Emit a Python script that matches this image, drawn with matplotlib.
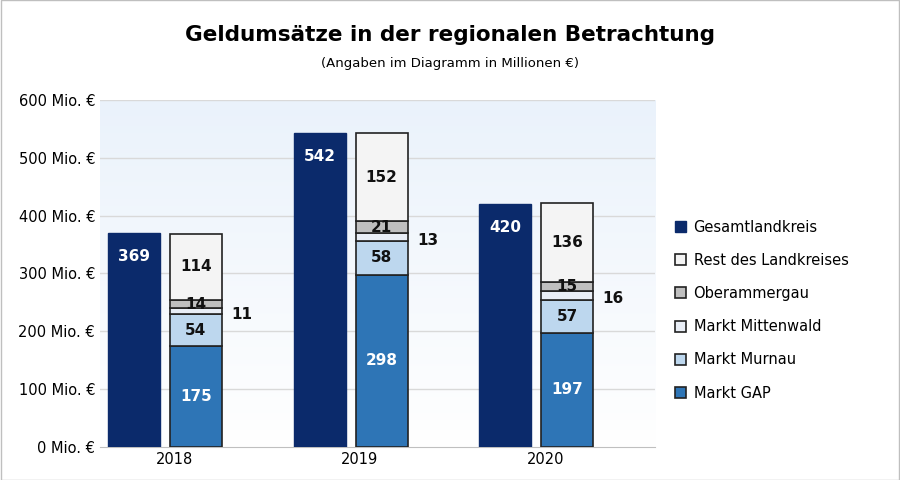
import matplotlib.pyplot as plt
import numpy as np
from matplotlib.colors import LinearSegmentedColormap

years = ["2018", "2019", "2020"]
gesamt = [369, 542, 420]
gap = [175, 298, 197]
murnau = [54, 58, 57]
mittenwald = [11, 13, 16]
oberammergau = [14, 21, 15]
rest = [114, 152, 136]
yticks = [0, 100, 200, 300, 400, 500, 600]

fig = plt.figure(figsize=(9, 4.8), dpi=100)
ax = fig.add_axes([0.111, 0.069, 0.617, 0.723])
x = np.arange(3)
w = 0.28
off = 0.167

grad = np.linspace(0, 1, 256).reshape(-1, 1)
cm = LinearSegmentedColormap.from_list("bg", ["#ffffff", "#eaf2fb"])
ax.imshow(grad, extent=[-0.35, 2.64, 0, 600], aspect="auto", cmap=cm, origin="lower", zorder=0)

for t in yticks[1:]:
    ax.axhline(t, color="#d9d9d9", lw=1, zorder=1)

ax.bar(x - off, gesamt, w, color="#0b2a6b", edgecolor="#0b2a6b", zorder=3, label="Gesamtlandkreis")
series = [(gap, "#2e75b6", "Markt GAP"),
          (murnau, "#bdd7ee", "Markt Murnau"),
          (mittenwald, "#e9eef6", "Markt Mittenwald"),
          (oberammergau, "#bfbfbf", "Oberammergau"),
          (rest, "#f4f4f4", "Rest des Landkreises")]
bottom = np.zeros(3)
for vals, col, lab in series:
    ax.bar(x + off, vals, w, bottom=bottom, color=col, edgecolor="#222222", lw=1.2, zorder=3, label=lab)
    bottom += np.array(vals)

fs = 11
for i in range(3):
    ax.text(x[i] - off, gesamt[i] - 40, str(gesamt[i]), ha="center", va="center", color="white", fontsize=fs, fontweight="bold", zorder=4)
    ax.text(x[i] + off, gap[i] / 2, str(gap[i]), ha="center", va="center", color="white", fontsize=fs, fontweight="bold", zorder=4)
    b1 = gap[i]
    ax.text(x[i] + off, b1 + murnau[i] / 2, str(murnau[i]), ha="center", va="center", color="#111", fontsize=fs, fontweight="bold", zorder=4)
    b2 = b1 + murnau[i]
    ax.text(x[i] + off + w / 2 + 0.05, b2 + mittenwald[i] / 2 - 5, str(mittenwald[i]), ha="left", va="center", color="#111", fontsize=fs, fontweight="bold", zorder=4)
    b3 = b2 + mittenwald[i]
    ax.text(x[i] + off, b3 + oberammergau[i] / 2, str(oberammergau[i]), ha="center", va="center", color="#111", fontsize=fs, fontweight="bold", zorder=4)
    b4 = b3 + oberammergau[i]
    ax.text(x[i] + off, b4 + rest[i] / 2, str(rest[i]), ha="center", va="center", color="#111", fontsize=fs, fontweight="bold", zorder=4)

ax.set_xlim(-0.35, 2.64)
ax.set_ylim(0, 600)
ax.set_xticks(x + 0.05)
ax.set_xticklabels(years, fontsize=10.5)
ax.set_yticks(yticks)
ax.set_yticklabels([f"{t} Mio. €" for t in yticks], fontsize=10.5)
ax.tick_params(length=0)
for s in ["top", "right", "left"]:
    ax.spines[s].set_visible(False)
ax.spines["bottom"].set_color("#bfbfbf")

h, l = ax.get_legend_handles_labels()
order = ["Gesamtlandkreis", "Rest des Landkreises", "Oberammergau", "Markt Mittenwald", "Markt Murnau", "Markt GAP"]
hh = [h[l.index(o)] for o in order]
fig.legend(hh, order, loc="center left", bbox_to_anchor=(0.735, 0.354), frameon=False, fontsize=10.5,
           handlelength=0.8, handleheight=0.8, labelspacing=1.25, handletextpad=0.5)

fig.text(0.5, 0.915, "Geldumsätze in der regionalen Betrachtung", ha="center", fontsize=15.5, fontweight="bold")
fig.text(0.5, 0.86, "(Angaben im Diagramm in Millionen €)", ha="center", fontsize=9.5)
fig.patches.append(plt.Rectangle((0.001, 0.001), 0.998, 0.998, transform=fig.transFigure, fill=False, edgecolor="#bfbfbf", lw=1))
fig.savefig("out.png", dpi=100)
